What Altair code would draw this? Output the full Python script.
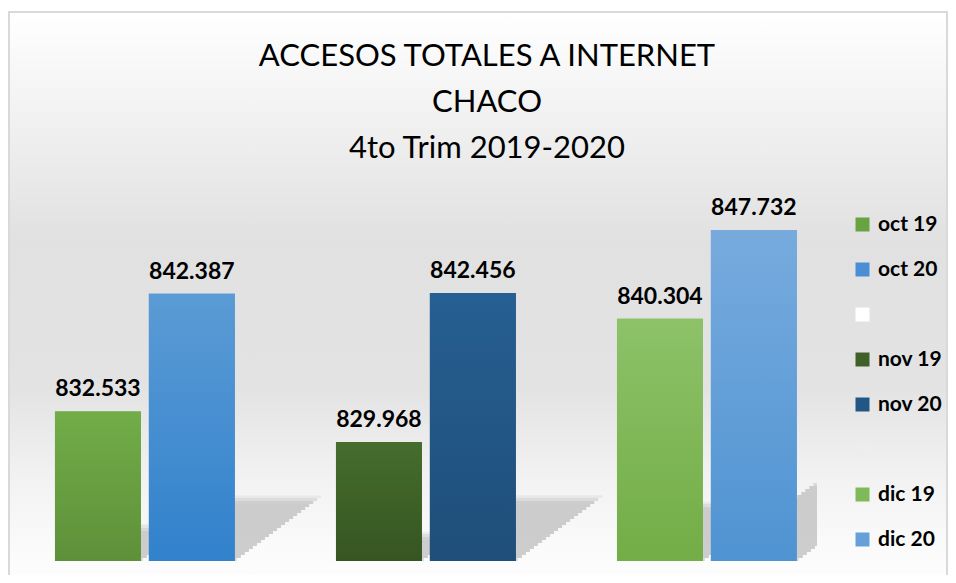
import altair as alt
import pandas as pd

# ---- data ----
months = ["oct", "nov", "dic"]
years = ["19", "20"]
values_19 = [832533, 829968, 840304]
values_20 = [842387, 842456, 847732]
axis_min = 820000
axis_max = 850000

legend_labels = ["oct 19", "oct 20", " ", "nov 19", "nov 20", "  ", "dic 19", "dic 20"]
legend_colors = ["#68a342", "#4a8fd4", "#ffffff", "#3f6128", "#225685", "#ededed", "#80b95a", "#66a0d9"]

# gradient (top, bottom) per bar series
bar_gradients = {
    "oct 19": ("#72ad48", "#5e903a"),
    "oct 20": ("#5b9bd5", "#3181cc"),
    "nov 19": ("#456d2d", "#365522"),
    "nov 20": ("#265f92", "#1f4e79"),
    "dic 19": ("#8dc269", "#72ad46"),
    "dic 20": ("#77abde", "#4f93d2"),
}

title_lines = ["ACCESOS TOTALES A INTERNET", "CHACO", "4to Trim 2019-2020"]

rows = []
for i, m in enumerate(months):
    for y, vals in zip(years, [values_19, values_20]):
        v = vals[i]
        rows.append({
            "month": m,
            "year": y,
            "series": f"{m} {y}",
            "value": v,
            "label": f"{v:,}".replace(",", "."),
        })
df = pd.DataFrame(rows)

W, H = 803, 358
PAD_IN, PAD_OUT, ALIGN, PAD_IN_OFF = 0.36, 0.1088, 0.67, 0.085

x_enc = alt.X("month:N", sort=months, axis=None,
              scale=alt.Scale(paddingInner=PAD_IN, paddingOuter=PAD_OUT, align=ALIGN))
xo_enc = alt.XOffset("year:N", sort=years, scale=alt.Scale(paddingInner=PAD_IN_OFF, paddingOuter=0))
y_scale = alt.Scale(domain=[axis_min, axis_max], zero=False, nice=False)
y_enc = alt.Y("value:Q", axis=None, scale=y_scale)
y2_enc = alt.datum(axis_min)

bg_gradient = alt.LinearGradient(
    gradient="linear", x1=0, x2=0, y1=0, y2=1,
    stops=[
        alt.GradientStop(color="#ffffff", offset=0),
        alt.GradientStop(color="#e1e1e1", offset=0.40),
        alt.GradientStop(color="#e3e3e3", offset=0.66),
        alt.GradientStop(color="#f2f2f2", offset=0.82),
        alt.GradientStop(color="#fbfbfb", offset=0.95),
        alt.GradientStop(color="#fdfdfd", offset=1),
    ],
)

bg = alt.Chart(pd.DataFrame({"a": [0]})).mark_rect(
    color=bg_gradient, stroke="#d9d9d9", strokeWidth=2
).encode(
    x=alt.value(-5), x2=alt.value(933), y=alt.value(-191), y2=alt.value(H + 20)
)

# ---- perspective shadow (decorative): thin slices, each shifted right ----
step = W / (len(months) - PAD_IN + 2 * PAD_OUT)
bandw = step * (1 - PAD_IN)
step_o = bandw / (len(years) - PAD_IN_OFF)
bar_w = step_o * (1 - PAD_IN_OFF)
rel_w = bar_w / bandw
year_shift = {y: (j * step_o + bar_w / 2) - bandw / 2 for j, y in enumerate(years)}

units_per_px = (axis_max - axis_min) / H
slice_px = 3
shadow_ratio = 0.245
skew = 1.34
fade_px = 9
max_shadow_px = shadow_ratio * (max(values_20 + values_19) - axis_min) / units_per_px
n_slices = int(max_shadow_px // slice_px) + 1
shadow_layers = []
for yr in years:
    for i in range(n_slices):
        lo = axis_min + i * slice_px * units_per_px
        hi = axis_min + (i + 1) * slice_px * units_per_px
        base_fade = 0.6 if i == 0 else 0.85
        shadow_layers.append(
            alt.Chart(df).transform_filter(alt.datum.year == yr).transform_calculate(
                sh_top=f"{axis_min} + {shadow_ratio} * (datum.value - {axis_min})",
                lo=f"{lo}",
                hi=f"min({hi}, datum.sh_top)",
                fade=f"{base_fade} * min(1, max(0.25, (datum.sh_top - {lo}) / {fade_px * units_per_px}))",
            ).transform_filter("datum.hi > datum.lo")
            .mark_bar(color="#c4c4c4", clip=True,
                      width=alt.RelativeBandSize(rel_w),
                      xOffset=year_shift[yr] + skew * (i + 0.5) * slice_px)
            .encode(x=x_enc,
                    y=alt.Y("lo:Q", axis=None, scale=y_scale), y2="hi:Q",
                    opacity=alt.Opacity("fade:Q", scale=None))
        )

base_bars = alt.Chart(df).mark_bar().encode(
    x=x_enc, xOffset=xo_enc, y=y_enc, y2=y2_enc,
    color=alt.Color(
        "series:N",
        scale=alt.Scale(domain=legend_labels, range=legend_colors),
        legend=alt.Legend(
            title=None, orient="none", legendX=838, legendY=11,
            symbolType="square", symbolSize=196, symbolStrokeWidth=0,
            labelFont="Lato", labelFontWeight="bold", labelFontSize=21,
            labelColor="#000000", labelOffset=5, rowPadding=23, padding=0,
            symbolOpacity=1,
        ),
    ),
)

grad_layers = []
for s, (top, bottom) in bar_gradients.items():
    g = alt.LinearGradient(
        gradient="linear", x1=0, x2=0, y1=0, y2=1,
        stops=[alt.GradientStop(color=top, offset=0), alt.GradientStop(color=bottom, offset=1)],
    )
    grad_layers.append(
        alt.Chart(df).transform_filter(alt.datum.series == s)
        .mark_bar(color=g).encode(x=x_enc, xOffset=xo_enc, y=y_enc, y2=y2_enc)
    )

labels = alt.Chart(df).mark_text(
    font="Lato", fontWeight="bold", fontSize=23, color="#000000",
    baseline="alphabetic", dy=-15,
).encode(x=x_enc, xOffset=xo_enc, y=y_enc, text="label:N")

chart = alt.layer(bg, *shadow_layers, base_bars, *grad_layers, labels).properties(
    width=W, height=H,
    padding={"left": 6, "top": 195, "right": 131, "bottom": 14},
    autosize="none",
    title=alt.TitleParams(
        text=title_lines, font="Lato", fontSize=31, fontWeight="normal",
        color="#000000", lineHeight=46, anchor="middle", dx=71.5, offset=-154,
    ),
).configure_view(stroke=None).configure(background="#ffffff")

chart.save("out.html", embed_options={"renderer": "svg", "actions": False})
